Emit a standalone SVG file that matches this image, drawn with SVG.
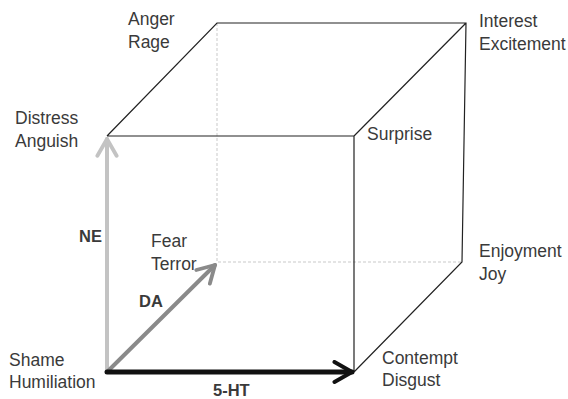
<svg xmlns="http://www.w3.org/2000/svg" width="568" height="399" viewBox="0 0 568 399">
<defs>
<style>
.t{font-family:"Liberation Sans",Arial,sans-serif;font-size:17.5px;fill:#3a3a3a}
.b{font-weight:bold;font-size:16.5px}
.edge{stroke:#222;stroke-width:1.2;fill:none}
.dot{stroke:#bbb;stroke-width:0.8;stroke-dasharray:3 2;fill:none}
.arr{fill:none;stroke-linecap:round;stroke-linejoin:round}
</style>
<marker id="mNE" viewBox="0 0 10 10" refX="8" refY="5" markerWidth="6" markerHeight="6" orient="auto" markerUnits="strokeWidth"><path d="M1,1 L8,5 L1,9" fill="none" stroke="#c3c3c3" stroke-width="1.6" stroke-linecap="round" stroke-linejoin="round"/></marker>
<marker id="mDA" viewBox="0 0 10 10" refX="8" refY="5" markerWidth="6" markerHeight="6" orient="auto" markerUnits="strokeWidth"><path d="M1,1 L8,5 L1,9" fill="none" stroke="#8a8a8a" stroke-width="1.6" stroke-linecap="round" stroke-linejoin="round"/></marker>
<marker id="mHT" viewBox="0 0 10 10" refX="8" refY="5" markerWidth="5" markerHeight="5" orient="auto" markerUnits="strokeWidth"><path d="M1,1 L8,5 L1,9" fill="none" stroke="#111" stroke-width="1.6" stroke-linecap="round" stroke-linejoin="round"/></marker>
</defs>
<rect width="568" height="399" fill="#fff"/>
<g id="cube">
<path class="dot" d="M217,23 V262 H462"/>
<path class="edge" d="M107,136 H354 V372 M107,136 L217,23 H466 L462,262 L354,372 M354,136 L466,23"/>
</g>
<g id="connectors">
<path id="ne" class="arr" d="M107,372 V139" stroke="#c3c3c3" stroke-width="4" marker-end="url(#mNE)"/>
<path id="da" class="arr" d="M107,372 L215,265" stroke="#8a8a8a" stroke-width="4" marker-end="url(#mDA)"/>
<path id="ht" class="arr" d="M107,372 H352" stroke="#111" stroke-width="5" marker-end="url(#mHT)"/>
</g>
<g id="anger"><text class="t" x="128" y="25">Anger</text><text class="t" x="128" y="48">Rage</text></g>
<g id="interest"><text class="t" x="479" y="27">Interest</text><text class="t" x="479" y="50">Excitement</text></g>
<g id="distress"><text class="t" x="15" y="124">Distress</text><text class="t" x="15" y="147">Anguish</text></g>
<g id="surprise"><text class="t" x="367" y="140">Surprise</text></g>
<g id="fear"><text class="t" x="151" y="247">Fear</text><text class="t" x="151" y="270">Terror</text></g>
<g id="enjoyment"><text class="t" x="479" y="257">Enjoyment</text><text class="t" x="479" y="280">Joy</text></g>
<g id="shame"><text class="t" x="9" y="366">Shame</text><text class="t" x="9" y="388">Humiliation</text></g>
<g id="contempt"><text class="t" x="382" y="364">Contempt</text><text class="t" x="382" y="386">Disgust</text></g>
<g id="labels">
<text class="t b" x="79" y="242">NE</text>
<text class="t b" x="139" y="307">DA</text>
<text class="t b" x="213" y="396">5-HT</text>
</g>
</svg>
